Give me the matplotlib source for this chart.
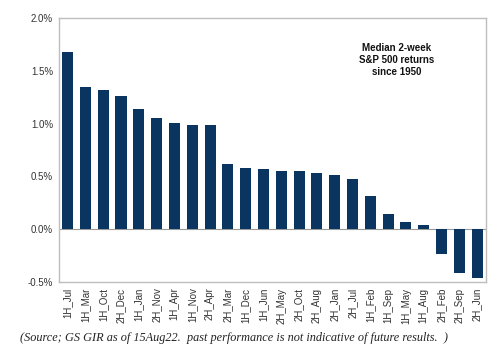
import matplotlib
matplotlib.use("Agg")
import matplotlib.pyplot as plt
from matplotlib.ticker import FuncFormatter

categories = ["1H_Jul", "1H_Mar", "1H_Oct", "2H_Dec", "1H_Jan", "2H_Nov", "1H_Apr",
              "1H_Nov", "2H_Apr", "2H_Mar", "1H_Dec", "1H_Jun", "2H_May", "2H_Oct",
              "2H_Aug", "2H_Jan", "2H_Jul", "1H_Feb", "1H_Sep", "1H_May", "1H_Aug",
              "2H_Feb", "2H_Sep", "2H_Jun"]
returns_pct = [1.68, 1.35, 1.32, 1.26, 1.135, 1.05, 1.006, 0.99, 0.985, 0.616, 0.575,
               0.573, 0.547, 0.547, 0.531, 0.516, 0.478, 0.311, 0.145, 0.069, 0.044,
               -0.239, -0.418, -0.459]
yticks = [-0.5, 0.0, 0.5, 1.0, 1.5, 2.0]

fig = plt.figure(figsize=(5, 3.5), dpi=100)
ax = fig.add_axes([58.7/500, 1 - 282/350, (486 - 58.7)/500, (282 - 18)/350])

x = range(len(categories))
ax.bar(x, returns_pct, width=0.62, color="#0b3561", zorder=2)
ax.axhline(0, color="#9a9a9a", lw=0.8, zorder=1)
ax.set_xlim(-0.5, len(categories) - 0.5)
ax.set_ylim(-0.5, 2.0)
ax.set_yticks(yticks)
ax.yaxis.set_major_formatter(FuncFormatter(lambda v, p: f"{v:.1f}%"))
ax.set_xticks(list(x))
ax.set_xticklabels(categories, rotation=90)
ax.tick_params(length=0, labelsize=7, colors="#333333", pad=4)
for lab in ax.get_xticklabels() + ax.get_yticklabels():
    lab.set_family("Liberation Sans")
for s in ax.spines.values():
    s.set_color("#bdbdbd")
    s.set_linewidth(1.0)

ax.text(396.7/500, 1 - 60/350, "Median 2-week\nS&P 500 returns\nsince 1950",
        transform=fig.transFigure, ha="center", va="center", fontsize=7,
        fontweight="bold", family="Liberation Sans", linespacing=1.2, color="#111111")

foot = fig.text(20/500, 1 - 338/350,
                "(Source; GS GIR as of 15Aug22.  past performance is not indicative of future results.  )",
                ha="left", va="center", fontsize=9, style="italic", family="Liberation Serif",
                color="#222222")
# fit footer width to ~427 px
r = fig.canvas.get_renderer()
w = foot.get_window_extent(r).width
foot.set_fontsize(9 * 427 / w)

fig.savefig("out.png", dpi=100, facecolor="white")
